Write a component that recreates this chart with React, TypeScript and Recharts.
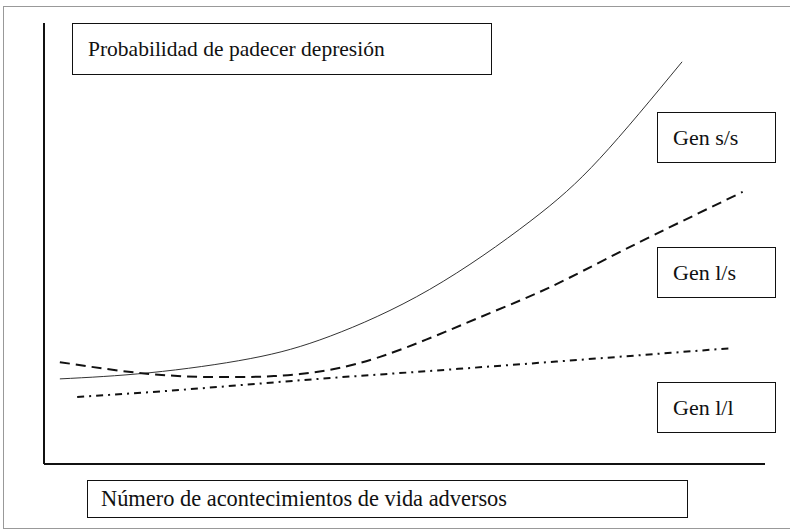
import React from "react"
import { LineChart, Line, XAxis, YAxis } from "recharts"

// x: número de acontecimientos (0-100 scale), y: probabilidad (0-100 scale)
const ssPoints = [
  { x: 2.2, y: 19.3 },
  { x: 14.7, y: 20.7 },
  { x: 28.6, y: 23.9 },
  { x: 39.7, y: 29.0 },
  { x: 53.5, y: 39.6 },
  { x: 67.4, y: 55.0 },
  { x: 77.1, y: 69.3 },
  { x: 88.5, y: 91.2 },
]

const lsPoints = [
  { x: 2.2, y: 23.1 },
  { x: 14.7, y: 20.4 },
  { x: 25.8, y: 19.7 },
  { x: 35.5, y: 20.4 },
  { x: 46.6, y: 24.3 },
  { x: 60.5, y: 33.3 },
  { x: 70.2, y: 40.1 },
  { x: 81.0, y: 49.0 },
  { x: 96.9, y: 61.7 },
]

const llPoints = [
  { x: 4.6, y: 15.2 },
  { x: 14.7, y: 16.3 },
  { x: 39.7, y: 19.5 },
  { x: 53.5, y: 21.1 },
  { x: 70.0, y: 23.1 },
  { x: 95.6, y: 26.3 },
]

const yTitle = "Probabilidad de padecer depresión"
const xTitle = "Número de acontecimientos de vida adversos"
const seriesNames = ["Gen s/s", "Gen l/s", "Gen l/l"]

const serif = '"Times New Roman", "Liberation Serif", Times, serif'

const boxStyle = (
  left: number,
  top: number,
  width: number,
  height: number,
  pad: number,
  size = 22
): React.CSSProperties => ({
  position: "absolute",
  left,
  top,
  width,
  height,
  boxSizing: "border-box",
  border: "1.5px solid #111",
  background: "#fff",
  display: "flex",
  alignItems: "center",
  paddingLeft: pad,
  fontFamily: serif,
  fontSize: size,
  color: "#111",
  whiteSpace: "nowrap",
})

export default function App() {
  return (
    <div style={{ position: "absolute", left: 0, top: 0, width: 790, height: 532, background: "#fff", overflow: "hidden" }}>
      <div
        style={{
          position: "absolute",
          left: 3,
          top: 6,
          width: 800,
          height: 523,
          border: "1px solid #999",
          boxSizing: "border-box",
        }}
      />
      <LineChart
        width={790}
        height={532}
        margin={{ top: 23, right: 25, bottom: 66, left: 42 }}
        style={{ position: "absolute", left: 0, top: 0 }}
      >
        <XAxis
          type="number"
          dataKey="x"
          domain={[0, 100]}
          allowDataOverflow
          height={2}
          tick={false}
          tickLine={false}
          axisLine={{ stroke: "#111", strokeWidth: 2 }}
        />
        <YAxis
          type="number"
          domain={[0, 100]}
          allowDataOverflow
          width={2}
          tick={false}
          tickLine={false}
          axisLine={{ stroke: "#111", strokeWidth: 2 }}
        />
        <Line
          data={ssPoints}
          dataKey="y"
          type="natural"
          stroke="#333"
          strokeWidth={1}
          dot={false}
          isAnimationActive={false}
        />
        <Line
          data={lsPoints}
          dataKey="y"
          type="natural"
          stroke="#111"
          strokeWidth={2}
          strokeDasharray="10 6"
          dot={false}
          isAnimationActive={false}
        />
        <Line
          data={llPoints}
          dataKey="y"
          type="monotone"
          stroke="#111"
          strokeWidth={2}
          strokeDasharray="7 5 2 5"
          dot={false}
          isAnimationActive={false}
        />
      </LineChart>
      <div style={boxStyle(72, 23, 420, 52, 15, 21.5)}>{yTitle}</div>
      <div style={boxStyle(87, 480, 601, 38, 13, 22.4)}>{xTitle}</div>
      <div style={boxStyle(657, 112, 119, 51, 15)}>{seriesNames[0]}</div>
      <div style={boxStyle(657, 247, 119, 51, 15)}>{seriesNames[1]}</div>
      <div style={boxStyle(657, 382, 119, 51, 15)}>{seriesNames[2]}</div>
    </div>
  )
}
